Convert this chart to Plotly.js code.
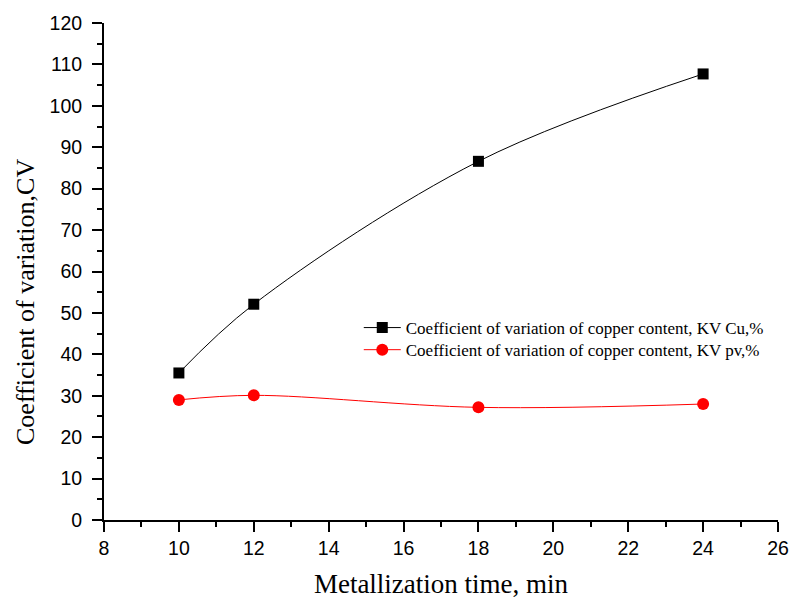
<!DOCTYPE html>
<html><head><meta charset="utf-8">
<script src="https://cdn.plot.ly/plotly-3.0.1.min.js"></script>
<style>body{margin:0;background:#fff}#chart{width:790px;height:599px}</style>
</head><body><div id="chart"></div>
<script>
const times = [10, 12, 18, 24];
const kvCu = [35.5, 52.1, 86.6, 107.7];
const kvPv = [29.0, 30.1, 27.2, 28.0];
const nameCu = "Coefficient of variation of copper content, KV Cu,%";
const namePv = "Coefficient of variation of copper content, KV pv,%";
const xTitle = "Metallization time, min";
const yTitle = "Coefficient of variation,CV";

const traces = [
  {x: times, y: kvCu, name: nameCu, legend: "legend", mode: "lines+markers", type: "scatter",
   line: {color: "#000", width: 1, shape: "spline", smoothing: 1},
   marker: {symbol: "square", size: 11, color: "#000"}},
  {x: times, y: kvPv, name: namePv, legend: "legend2", mode: "lines+markers", type: "scatter",
   line: {color: "#ff0000", width: 1, shape: "spline", smoothing: 1},
   marker: {symbol: "circle", size: 12, color: "#ff0000"}}
];
const axisCommon = {
  showline: true, linecolor: "#000", linewidth: 2, showgrid: false, zeroline: false,
  ticks: "outside", ticklen: 10, tickwidth: 2, tickcolor: "#000",
  tickfont: {family: "Liberation Sans, Arial", size: 19.5, color: "#000"},
  minor: {ticks: "outside", ticklen: 5, tickwidth: 2, tickcolor: "#000", showgrid: false}
};
const legendCommon = {xanchor: "left", yanchor: "top", bgcolor: "rgba(0,0,0,0)",
  font: {family: "Liberation Serif, Times New Roman", size: 17, color: "#000"}, itemwidth: 37};
const layout = {
  width: 790, height: 599,
  margin: {l: 104, r: 12, t: 23, b: 79},
  paper_bgcolor: "#fff", plot_bgcolor: "#fff",
  showlegend: true,
  legend: Object.assign({}, legendCommon, {x: 0.378, y: 0.4225}),
  legend2: Object.assign({}, legendCommon, {x: 0.378, y: 0.378}),
  xaxis: Object.assign({}, axisCommon, {range: [8, 26], dtick: 2, tick0: 8,
    minor: Object.assign({}, axisCommon.minor, {dtick: 1}),
    title: {text: xTitle, standoff: 22, font: {family: "Liberation Serif, Times New Roman", size: 27, color: "#000"}}}),
  yaxis: Object.assign({}, axisCommon, {range: [0, 120], dtick: 10, tick0: 0, ticklabelstandoff: 6,
    minor: Object.assign({}, axisCommon.minor, {dtick: 5})}),
  annotations: [{text: yTitle, textangle: -90, xref: "paper", yref: "paper",
    x: (25 - 104) / 674, y: (520 - 302) / 497, xanchor: "center", yanchor: "middle",
    showarrow: false, font: {family: "Liberation Serif, Times New Roman", size: 26, color: "#000"}}]
};
Plotly.newPlot("chart", traces, layout, {staticPlot: true});
</script></body></html>
